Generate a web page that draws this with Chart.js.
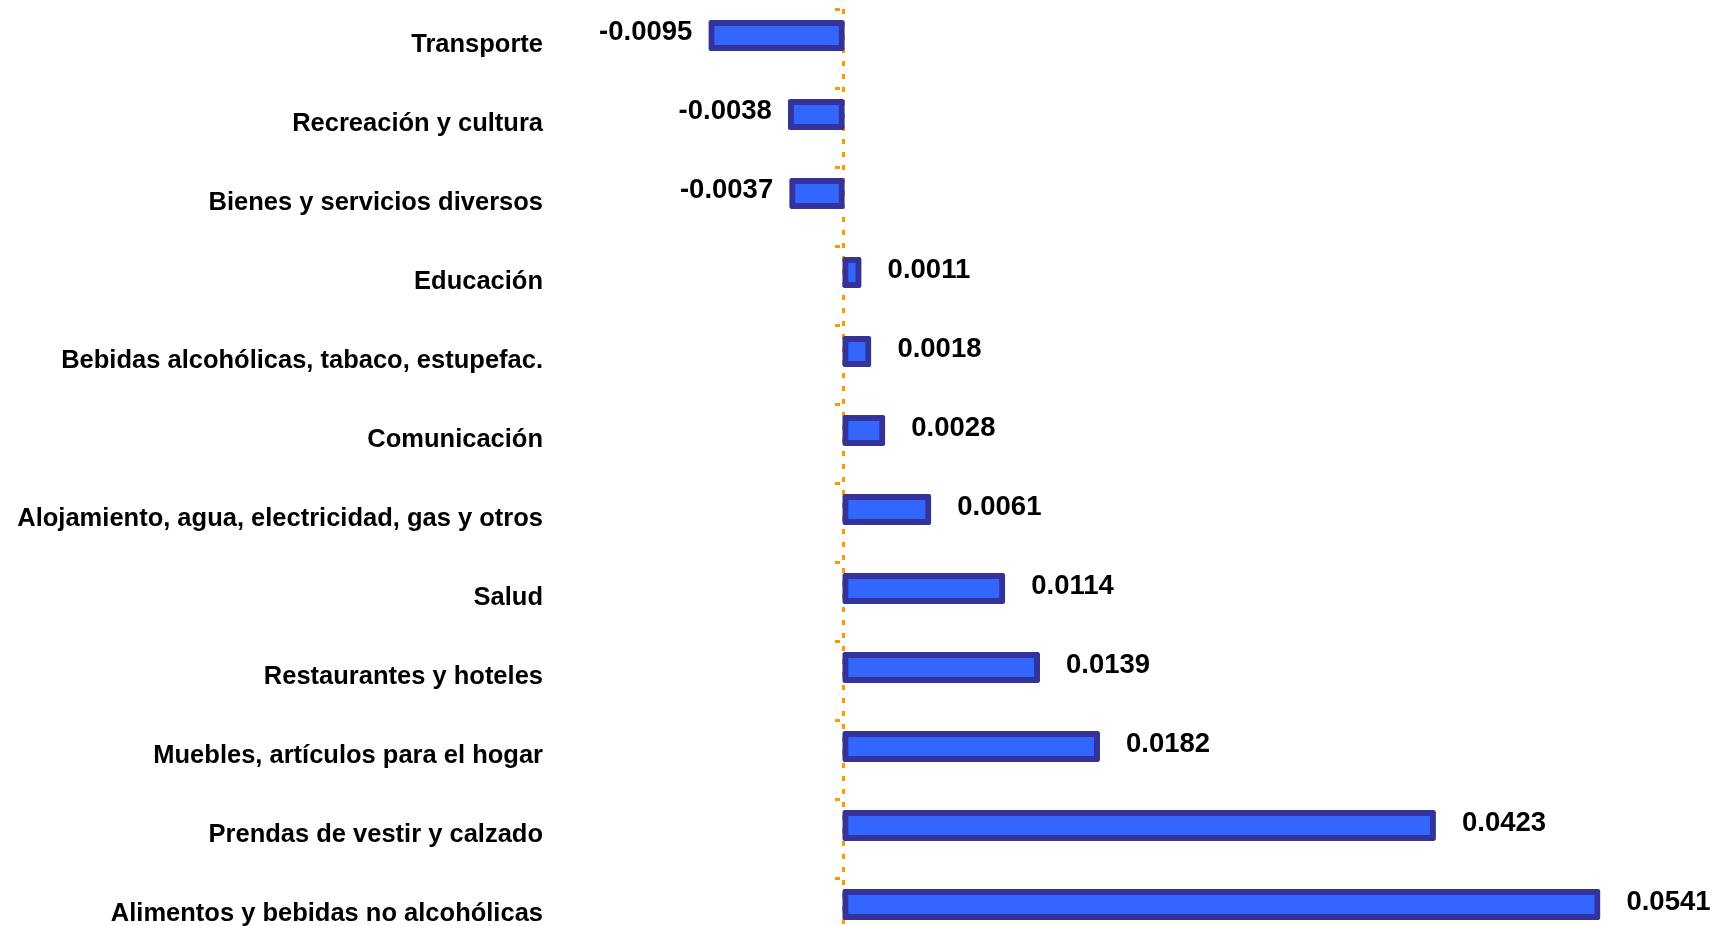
<!DOCTYPE html>
<html>
<head>
<meta charset="utf-8">
<title>Contribución por división</title>
<script src="https://cdn.jsdelivr.net/npm/chart.js@4.4.1/dist/chart.umd.min.js"></script>
<style>
    html, body { margin: 0; padding: 0; background: #ffffff; }
    .chart-frame { width: 1723px; height: 926px; overflow: hidden; }
</style>
</head>
<body>
<div class="chart-frame">
    <canvas id="division-chart" width="1723" height="966"></canvas>
</div>
<script>
const categories = [
    'Transporte',
    'Recreación y cultura',
    'Bienes y servicios diversos',
    'Educación',
    'Bebidas alcohólicas, tabaco, estupefac.',
    'Comunicación',
    'Alojamiento, agua, electricidad, gas y otros',
    'Salud',
    'Restaurantes y hoteles',
    'Muebles, artículos para el hogar',
    'Prendas de vestir y calzado',
    'Alimentos y bebidas no alcohólicas'
];
const values = [-0.0095, -0.0038, -0.0037, 0.0011, 0.0018, 0.0028, 0.0061, 0.0114, 0.0139, 0.0182, 0.0423, 0.0541];
const xMin = -0.02034;
const xMax = 0.06309;

const fontFamily = '"Liberation Sans", Arial, Helvetica, sans-serif';
const barInflate = 2.75;

// draws the value next to the end of each bar
const valueLabels = {
    id: 'valueLabels',
    afterDatasetsDraw(chart) {
        const ctx = chart.ctx;
        const meta = chart.getDatasetMeta(0);
        ctx.save();
        ctx.font = 'bold 27.5px ' + fontFamily;
        ctx.fillStyle = '#000000';
        ctx.textBaseline = 'middle';
        meta.data.forEach((bar, i) => {
            const v = values[i];
            if (v < 0) {
                ctx.textAlign = 'right';
                ctx.fillText(v.toFixed(4), bar.x - barInflate - 16, bar.y - 3);
            } else {
                ctx.textAlign = 'left';
                ctx.fillText(v.toFixed(4), bar.x + barInflate + 26, bar.y - 2);
            }
        });
        ctx.restore();
    }
};

const ctx = document.getElementById('division-chart').getContext('2d');
const divisionChart = new Chart(ctx, {
    type: 'bar',
    data: {
        labels: categories,
        datasets: [{
            label: 'Contribución',
            data: values,
            backgroundColor: '#3366FF',
            borderColor: '#333399',
            borderWidth: 6,
            borderSkipped: false,
            borderRadius: 2,
            inflateAmount: barInflate,
            categoryPercentage: 0.658,
            barPercentage: 0.98
        }, {
            // empty slot so the bars sit in the upper part of each row
            label: '',
            data: categories.map(() => null),
            backgroundColor: 'rgba(0,0,0,0)',
            borderWidth: 0,
            categoryPercentage: 0.658,
            barPercentage: 0.98
        }]
    },
    options: {
        indexAxis: 'y',
        responsive: false,
        animation: false,
        devicePixelRatio: 1,
        layout: {
            padding: { top: 9, bottom: 9, left: 0, right: 0 }
        },
        plugins: {
            legend: { display: false },
            tooltip: { enabled: false }
        },
        scales: {
            x: {
                type: 'linear',
                min: xMin,
                max: xMax,
                z: 1,
                // only the dotted zero line is shown
                afterBuildTicks: (scale) => {
                    scale.ticks = [{ value: 0 }];
                },
                grid: {
                    drawTicks: false,
                    color: '#FF9900',
                    lineWidth: 3
                },
                border: { display: false, dash: [5, 8] },
                ticks: { display: false }
            },
            y: {
                type: 'category',
                position: 'left',
                offset: true,
                grid: { display: false, offset: true },
                border: { display: false },
                ticks: {
                    autoSkip: false,
                    padding: 9,
                    color: '#000000',
                    font: { family: fontFamily, size: 25.5, weight: 'bold', lineHeight: 0.26 },
                    callback: function (value) {
                        return [this.getLabelForValue(value), ''];
                    }
                },
                afterFit: (scale) => {
                    scale.width = 560;
                    scale.paddingTop = 0;
                    scale.paddingBottom = 0;
                }
            },
            y2: {
                type: 'category',
                position: { x: 0 },
                offset: true,
                z: 1,
                grid: {
                    offset: true,
                    drawOnChartArea: false,
                    tickLength: 9,
                    tickColor: '#FF9900',
                    tickWidth: 3,
                    tickBorderDash: [5, 4],
                    tickBorderDashOffset: 5
                },
                border: { display: false },
                ticks: { display: false },
                afterFit: (scale) => {
                    scale.width = 0;
                    scale.paddingTop = 0;
                    scale.paddingBottom = 0;
                }
            }
        }
    },
    plugins: [valueLabels]
});
</script>
</body>
</html>
